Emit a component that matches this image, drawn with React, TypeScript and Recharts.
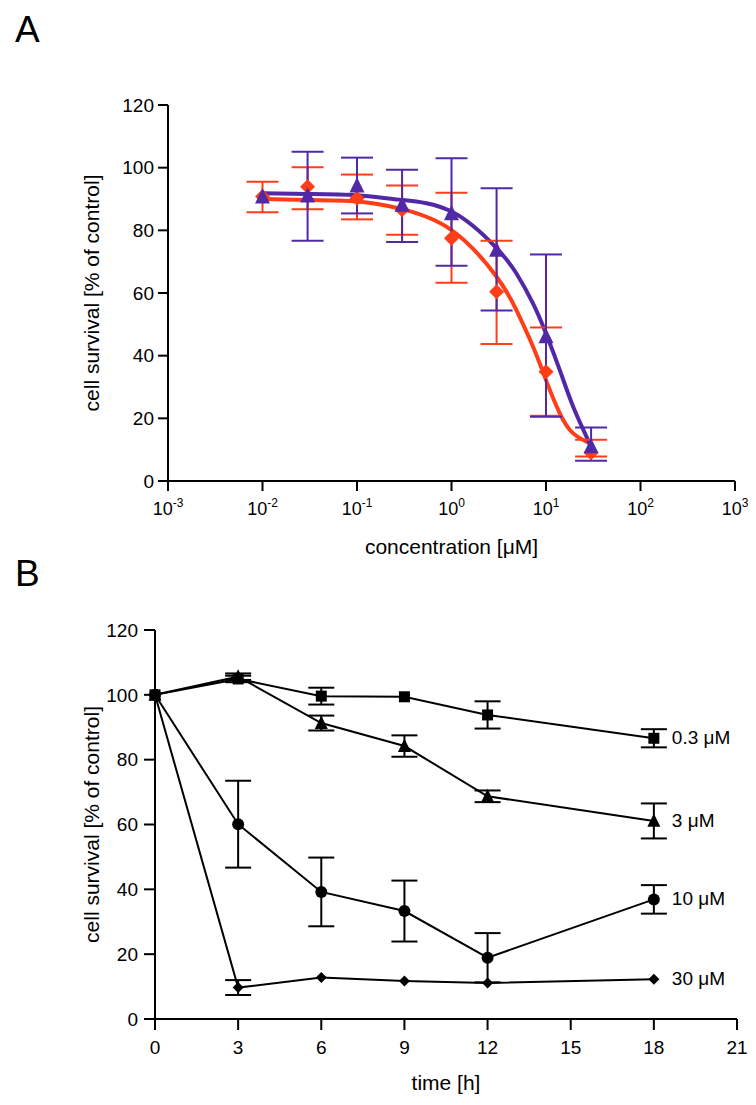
import { ComposedChart, Line, XAxis, YAxis, ErrorBar, Label, LabelList } from 'recharts';

const FONT = '"Liberation Sans", Arial, Helvetica, sans-serif';
const RED = '#ff3d17';
const PURPLE = '#5128a6';

// ---- panel A: dose response ----
const concentrations = [0.01, 0.03, 0.1, 0.3, 1, 3, 10, 30];
const purpleMean = [90.7, 91.0, 94.2, 88.1, 85.4, 73.7, 46.1, 11.0];
const purpleLow = [null, 76.7, 85.4, 76.3, 68.7, 54.4, 20.5, 6.5];
const purpleHigh = [null, 105.1, 103.2, 99.3, 103.0, 93.4, 72.3, 17.1];
const redMean = [90.8, 93.9, 90.2, 86.6, 77.5, 60.4, 34.9, 9.0];
const redLow = [85.8, 86.7, 83.5, 78.6, 63.3, 43.7, 20.8, 7.8];
const redHigh = [95.5, 100.1, 97.8, 94.3, 92.0, 76.7, 49.0, 13.2];

// fitted curves
const curveX = [0.01, 0.03, 0.1, 0.28, 1, 3, 4.85, 7.28, 10, 14, 19.4, 30];
const purpleCurve = [91.8, 91.6, 91.2, 89.8, 86.0, 74.3, 66.3, 56.7, 47.1, 35.4, 23.7, 11.0];
const redCurve = [90.0, 89.7, 89.2, 87.0, 80.1, 65.2, 54.6, 42.9, 32.2, 21.6, 15.2, 11.8];

const logTicks = [0.001, 0.01, 0.1, 1, 10, 100, 1000];
const pctTicks = [0, 20, 40, 60, 80, 100, 120];

// ---- panel B: time course ----
const hours = [0, 3, 6, 9, 12, 18];
const hourTicks = [0, 3, 6, 9, 12, 15, 18, 21];
const series03 = [100, 104.9, 99.6, 99.4, 93.8, 86.6];
const err03 = [null, 1.0, 2.6, null, 4.2, 2.8];
const series3 = [100, 105.6, 91.3, 84.2, 68.7, 61.1];
const err3 = [null, 1.0, 2.3, 3.3, 1.8, 5.4];
const series10 = [100, 60.1, 39.2, 33.3, 18.9, 36.9];
const err10 = [null, 13.4, 10.6, 9.4, 7.6, 4.4];
const series30 = [100, 9.7, 12.8, 11.7, 11.1, 12.3];
const err30 = [null, 2.3, null, null, null, null];
const seriesNames = ['0.3 μM', '3 μM', '10 μM', '30 μM'];

const pointsA = (mean: number[], low: (number | null)[], high: (number | null)[]) =>
  concentrations.map((x, i) => ({
    x,
    y: mean[i],
    err: low[i] == null ? null : [mean[i] - (low[i] as number), (high[i] as number) - mean[i]],
  }));

const curve = (ys: number[]) => curveX.map((x, i) => ({ x, y: ys[i] }));

const pointsB = (ys: number[], errs: (number | null)[]) =>
  hours.map((x, i) => ({ x, y: ys[i], err: errs[i] }));

const axisStyle = { stroke: '#000', strokeWidth: 2 };
const tickText = { fill: '#000', fontSize: 19, fontFamily: FONT };

const LogTick = (props: any) => {
  const { x, y, payload } = props;
  const exp = Math.round(Math.log10(payload.value));
  return (
    <text x={x} y={y + 22} textAnchor="middle" fontSize={18} fill="#000" fontFamily={FONT}>
      10<tspan dy={-8} fontSize={12}>{`${exp}`}</tspan>
    </text>
  );
};

const xTitle = (text: string, dy: number) => (props: any) => {
  const vb = props.viewBox || { x: 0, y: 0, width: 0 };
  return (
    <text x={vb.x + vb.width / 2} y={vb.y + dy} textAnchor="middle" fontSize={21} fill="#000" fontFamily={FONT}>
      {text}
    </text>
  );
};

const yTitle = (text: string) => (props: any) => {
  const vb = props.viewBox || { x: 0, y: 0, height: 0 };
  const x = vb.x + 99;
  const y = vb.y + vb.height / 2;
  return (
    <text x={x} y={y} transform={`rotate(-90, ${x}, ${y})`} textAnchor="middle" fontSize={21} fill="#000" fontFamily={FONT}>
      {text}
    </text>
  );
};

const triangle = (color: string, half: number) => (p: any) => (
  <polygon
    key={`t${p.index}`}
    points={`${p.cx},${p.cy - half * 1.15} ${p.cx + half},${p.cy + half * 0.9} ${p.cx - half},${p.cy + half * 0.9}`}
    fill={color}
  />
);

const diamond = (color: string, half: number) => (p: any) => (
  <polygon
    key={`d${p.index}`}
    points={`${p.cx},${p.cy - half} ${p.cx + half},${p.cy} ${p.cx},${p.cy + half} ${p.cx - half},${p.cy}`}
    fill={color}
  />
);

const square = (half: number) => (p: any) => (
  <rect key={`s${p.index}`} x={p.cx - half} y={p.cy - half} width={half * 2} height={half * 2} fill="#000" />
);

const circle = (r: number) => (p: any) => <circle key={`c${p.index}`} cx={p.cx} cy={p.cy} r={r} fill="#000" />;

const endLabel = (name: string) => (p: any) =>
  p.index === hours.length - 1 ? (
    <text x={p.x + 18} y={p.y + 6} fontSize={19} fill="#000" fontFamily={FONT}>
      {name}
    </text>
  ) : null;

const PanelLetter = ({ text, top }: { text: string; top: number }) => (
  <div style={{ position: 'absolute', left: 15, top, fontSize: 37, lineHeight: 1, fontFamily: FONT, color: '#000' }}>
    {text}
  </div>
);

export default function App() {
  return (
    <div style={{ position: 'absolute', left: 0, top: 0, width: 756, height: 1105, background: '#fff' }}>
      <PanelLetter text="A" top={11} />
      <PanelLetter text="B" top={555} />

      <div style={{ position: 'absolute', left: 0, top: 0 }}>
        <ComposedChart width={756} height={560} margin={{ top: 105, right: 21, bottom: 0, left: 0 }}>
          <XAxis
            dataKey="x" type="number" scale="log" domain={[0.001, 1000]} ticks={logTicks} interval={0}
            allowDataOverflow height={79} axisLine={axisStyle} tickLine={axisStyle} tickSize={10} tick={<LogTick />}
          >
            <Label content={xTitle('concentration [μM]', 73)} />
          </XAxis>
          <YAxis
            dataKey="y" type="number" domain={[0, 120]} ticks={pctTicks} interval={0} width={168}
            axisLine={axisStyle} tickLine={axisStyle} tickSize={10} tickMargin={4} tick={tickText}
          >
            <Label content={yTitle('cell survival [% of control]')} />
          </YAxis>

          <Line data={curve(redCurve)} dataKey="y" type="natural" stroke={RED} strokeWidth={4} dot={false} activeDot={false} isAnimationActive={false} />
          <Line data={curve(purpleCurve)} dataKey="y" type="natural" stroke={PURPLE} strokeWidth={4} dot={false} activeDot={false} isAnimationActive={false} />

          <Line data={pointsA(redMean, redLow, redHigh)} dataKey="y" stroke="none" dot={diamond(RED, 7.5)} activeDot={false} isAnimationActive={false}>
            <ErrorBar dataKey="err" direction="y" width={16} stroke={RED} strokeWidth={2} isAnimationActive={false} />
          </Line>
          <Line data={pointsA(purpleMean, purpleLow, purpleHigh)} dataKey="y" stroke="none" dot={triangle(PURPLE, 7.5)} activeDot={false} isAnimationActive={false}>
            <ErrorBar dataKey="err" direction="y" width={16} stroke={PURPLE} strokeWidth={2} isAnimationActive={false} />
          </Line>
        </ComposedChart>
      </div>

      <div style={{ position: 'absolute', left: 0, top: 540 }}>
        <ComposedChart width={756} height={565} margin={{ top: 90, right: 19, bottom: 0, left: 0 }}>
          <XAxis
            dataKey="x" type="number" domain={[0, 21]} ticks={hourTicks} interval={0} height={86}
            axisLine={axisStyle} tickLine={axisStyle} tickSize={11} tickMargin={11} tick={tickText}
          >
            <Label content={xTitle('time [h]', 71)} />
          </XAxis>
          <YAxis
            dataKey="y" type="number" domain={[0, 120]} ticks={pctTicks} interval={0} width={155}
            axisLine={axisStyle} tickLine={axisStyle} tickSize={11} tickMargin={6} tick={tickText}
          >
            <Label content={yTitle('cell survival [% of control]')} />
          </YAxis>

          <Line data={pointsB(series30, err30)} dataKey="y" stroke="#000" strokeWidth={2} dot={diamond('#000', 5.5)} activeDot={false} isAnimationActive={false}>
            <ErrorBar dataKey="err" direction="y" width={13} stroke="#000" strokeWidth={2} isAnimationActive={false} />
            <LabelList dataKey="y" content={endLabel(seriesNames[3])} />
          </Line>
          <Line data={pointsB(series10, err10)} dataKey="y" stroke="#000" strokeWidth={2} dot={circle(6)} activeDot={false} isAnimationActive={false}>
            <ErrorBar dataKey="err" direction="y" width={13} stroke="#000" strokeWidth={2} isAnimationActive={false} />
            <LabelList dataKey="y" content={endLabel(seriesNames[2])} />
          </Line>
          <Line data={pointsB(series3, err3)} dataKey="y" stroke="#000" strokeWidth={2} dot={triangle('#000', 6.5)} activeDot={false} isAnimationActive={false}>
            <ErrorBar dataKey="err" direction="y" width={13} stroke="#000" strokeWidth={2} isAnimationActive={false} />
            <LabelList dataKey="y" content={endLabel(seriesNames[1])} />
          </Line>
          <Line data={pointsB(series03, err03)} dataKey="y" stroke="#000" strokeWidth={2} dot={square(5.5)} activeDot={false} isAnimationActive={false}>
            <ErrorBar dataKey="err" direction="y" width={13} stroke="#000" strokeWidth={2} isAnimationActive={false} />
            <LabelList dataKey="y" content={endLabel(seriesNames[0])} />
          </Line>
        </ComposedChart>
      </div>
    </div>
  );
}
